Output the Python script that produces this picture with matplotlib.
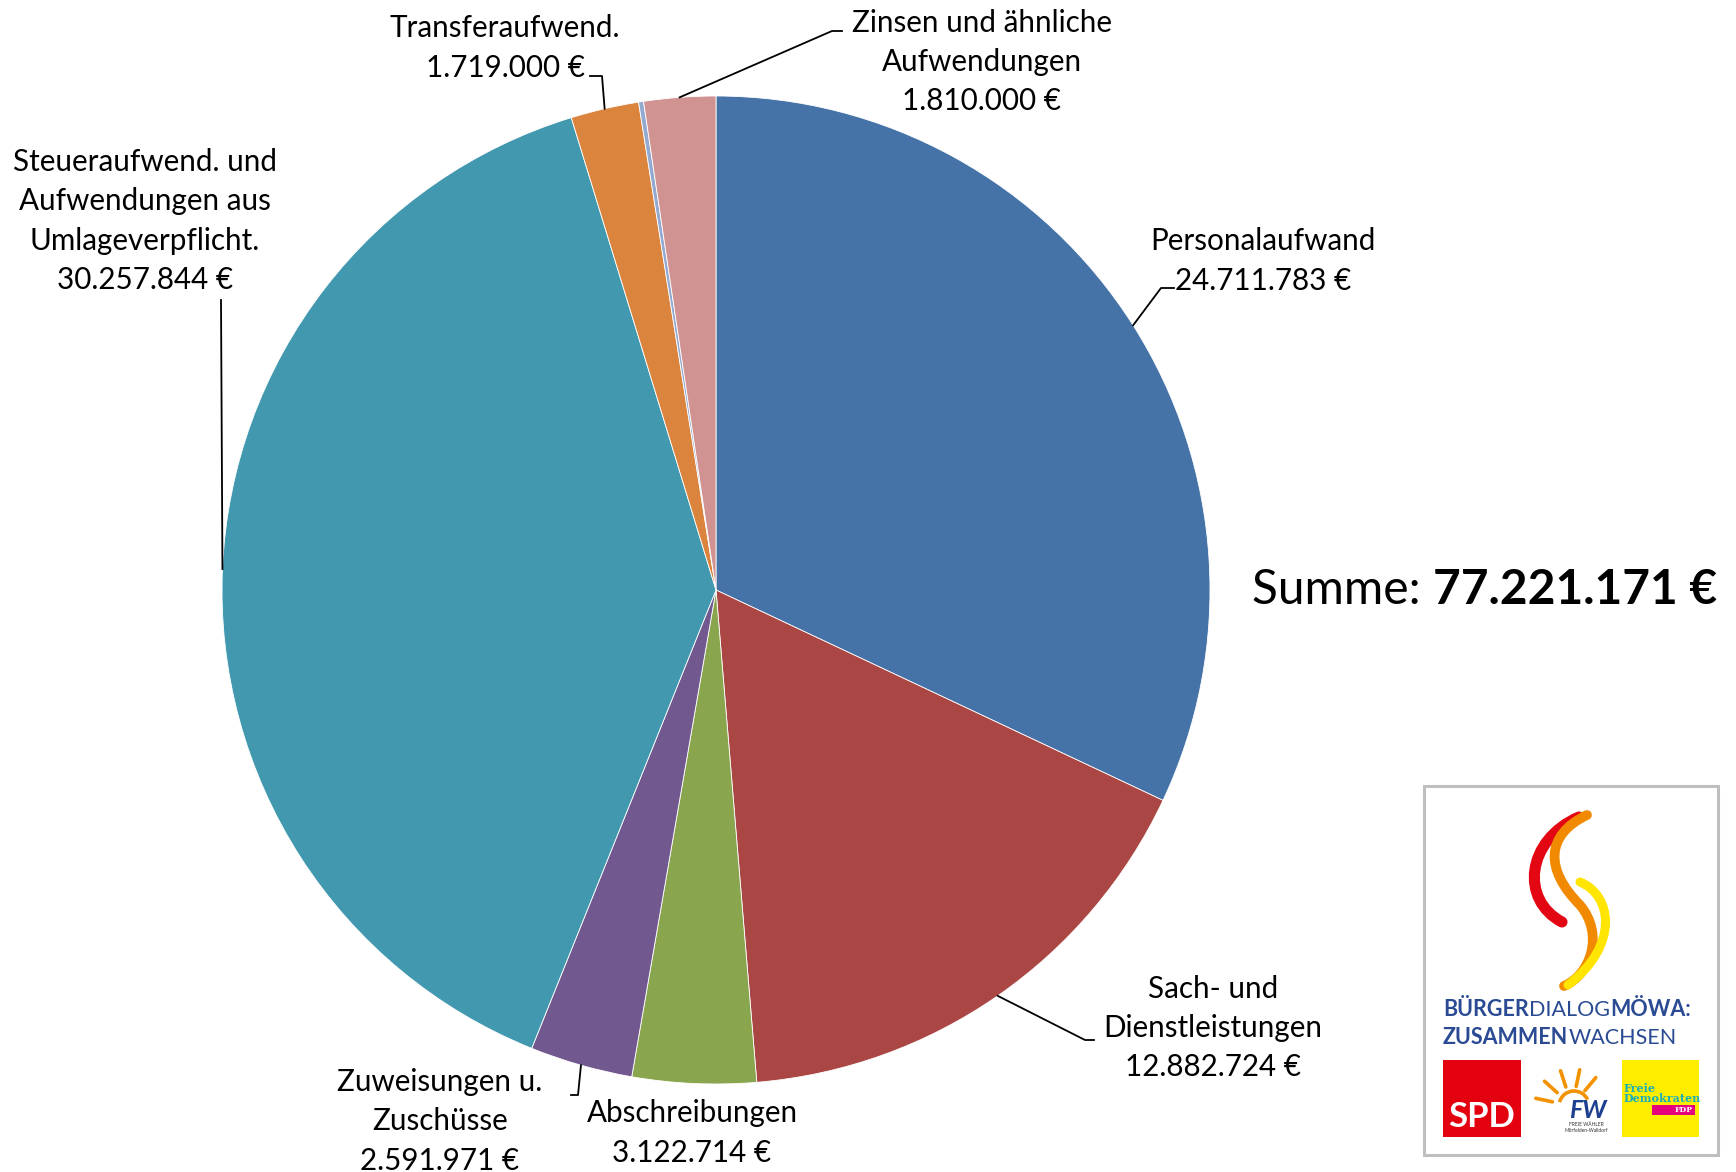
import numpy as np
import matplotlib.pyplot as plt
from matplotlib.patches import Rectangle, Arc, PathPatch
from matplotlib.path import Path

plt.rcParams['font.family'] = ['Lato', 'DejaVu Sans']

# data
labels = ['Personalaufwand', 'Sach- und\nDienstleistungen', 'Abschreibungen',
          'Zuweisungen u.\nZuschüsse', 'Steueraufwend. und\nAufwendungen aus\nUmlageverpflicht.',
          'Transferaufwend.', 'sonstige', 'Zinsen und ähnliche\nAufwendungen']
values = [24711783, 12882724, 3122714, 2591971, 30257844, 1719000, 125135, 1810000]
colors = ['#4572A7', '#AA4643', '#89A54E', '#71588F', '#4198AF', '#DB843D', '#93A9CF', '#D19392']
show_label = [True, True, True, True, True, True, False, True]
total = 77221171


def euro(v):
    return '{:,}'.format(v).replace(',', '.') + ' €'


W, H = 1736, 1172
fig = plt.figure(figsize=(W / 100, H / 100), dpi=100)
ax = fig.add_axes([0, 0, 1, 1])

cx, cy, r = 716, 590, 494
wedges, _ = ax.pie(values, colors=colors, startangle=-90, counterclock=True,
                   center=(cx, cy), radius=r,
                   wedgeprops=dict(edgecolor='white', linewidth=0.6))
ax.set_xlim(0, W)
ax.set_ylim(H, 0)
ax.set_aspect('equal')
ax.axis('off')

# label positions (text centre) and leader elbows (pixels)
lab_pos = [(1263, 261), (1213, 1028), (692, 1133), (440, 1121), (145, 221),
           (505, 48), None, (982, 62)]
leaders = [[(1161, 288), (1174, 288)],
           [(1085, 1040), (1094, 1040)],
           None,
           [(578, 1095), (571, 1095)],
           [(221, 300)],
           [(602, 76), (590, 76)],
           None,
           [(832, 31), (842, 31)]]

for i, w in enumerate(wedges):
    if not show_label[i]:
        continue
    x, y = lab_pos[i]
    ax.text(x, y, labels[i] + '\n' + euro(values[i]), ha='center', va='center',
            fontsize=21.3, linespacing=1.5, color='black')
    if leaders[i] is not None:
        mid = np.deg2rad((w.theta1 + w.theta2) / 2)
        ex, ey = cx + r * np.cos(mid), cy + r * np.sin(mid)
        pts = [(ex, ey)] + leaders[i]
        ax.plot([p[0] for p in pts], [p[1] for p in pts], color='black', lw=1.3)

# total
t1 = ax.text(1252, 590, 'Summe: ', fontsize=34.5, va='center', ha='left')
ax.annotate(euro(total), xy=(1, 0), xycoords=t1, va='bottom', ha='left',
            fontsize=34.5, fontweight='bold')

# logo
ax.add_patch(Rectangle((1424, 786), 294, 369, facecolor='white', edgecolor='#BFBFBF', lw=2.2))

red = Path([(1579, 817), (1526, 840), (1520, 900), (1562, 922)],
           [Path.MOVETO, Path.CURVE4, Path.CURVE4, Path.CURVE4])
ax.add_patch(PathPatch(red, facecolor='none', edgecolor='#E30613', lw=8, capstyle='round'))
orange = Path([(1587, 815), (1545, 835), (1545, 870), (1580, 905),
               (1605, 935), (1590, 975), (1564, 986)],
              [Path.MOVETO, Path.CURVE4, Path.CURVE4, Path.CURVE4,
               Path.CURVE4, Path.CURVE4, Path.CURVE4])
ax.add_patch(PathPatch(orange, facecolor='none', edgecolor='#F18A00', lw=7, capstyle='round'))
yellow = Path([(1580, 882), (1612, 895), (1620, 945), (1568, 985)],
              [Path.MOVETO, Path.CURVE4, Path.CURVE4, Path.CURVE4])
ax.add_patch(PathPatch(yellow, facecolor='none', edgecolor='#FFE500', lw=6.5, capstyle='round'))

blue = '#2A4B93'
fs = 15.5
a = ax.text(1443, 1010, 'BÜRGER', fontsize=fs, fontweight='bold', color=blue, va='center', ha='left')
b = ax.annotate('DIALOG', xy=(1, 0), xycoords=a, fontsize=fs, color=blue, va='bottom', ha='left')
ax.annotate('MÖWA:', xy=(1, 0), xycoords=b, fontsize=fs, fontweight='bold', color=blue, va='bottom', ha='left')
c = ax.text(1443, 1038, 'ZUSAMMEN', fontsize=fs, fontweight='bold', color=blue, va='center', ha='left')
ax.annotate('WACHSEN', xy=(1, 0), xycoords=c, fontsize=fs, color=blue, va='bottom', ha='left')

# SPD
ax.add_patch(Rectangle((1443, 1060), 78, 77, facecolor='#E3000F', edgecolor='none'))
ax.text(1482, 1117, 'SPD', fontsize=25, fontweight='bold', color='white', ha='center', va='center')

# FW
sun = '#F39200'
for ang in [168, 138, 108, 78, 50]:
    t = np.deg2rad(ang)
    ax.plot([1572 + 20 * np.cos(t), 1572 + 37 * np.cos(t)],
            [1106 - 20 * np.sin(t), 1106 - 37 * np.sin(t)], color=sun, lw=2.6,
            solid_capstyle='round')
ax.add_patch(Arc((1574, 1106), 30, 30, theta1=195, theta2=335, color=sun, lw=2.6))
ax.text(1588, 1111, 'FW', fontsize=18, fontweight='bold', fontstyle='italic', color='#1D3F8F',
        ha='center', va='center')
ax.text(1586, 1124, 'FREIE WÄHLER', fontsize=3.5, color='#333333', ha='center', va='center')
ax.text(1586, 1130, 'Mörfelden-Walldorf', fontsize=3.5, color='#333333', ha='center', va='center')

# FDP
ax.add_patch(Rectangle((1622, 1060), 77, 77, facecolor='#FFED00', edgecolor='none'))
ax.text(1624, 1088, 'Freie', fontsize=8, color='#1AAFB8', ha='left', va='center',
        family='DejaVu Serif', fontweight='bold')
ax.text(1624, 1099, 'Demokraten', fontsize=8, color='#1AAFB8', ha='left', va='center',
        family='DejaVu Serif', fontweight='bold')
ax.add_patch(Rectangle((1652, 1105), 43, 10, facecolor='#E5007D', edgecolor='none'))
ax.text(1693, 1110.5, 'FDP', fontsize=5.5, color='white', ha='right', va='center',
        family='DejaVu Serif', fontweight='bold')

fig.savefig('out.png', dpi=100, facecolor='white')
